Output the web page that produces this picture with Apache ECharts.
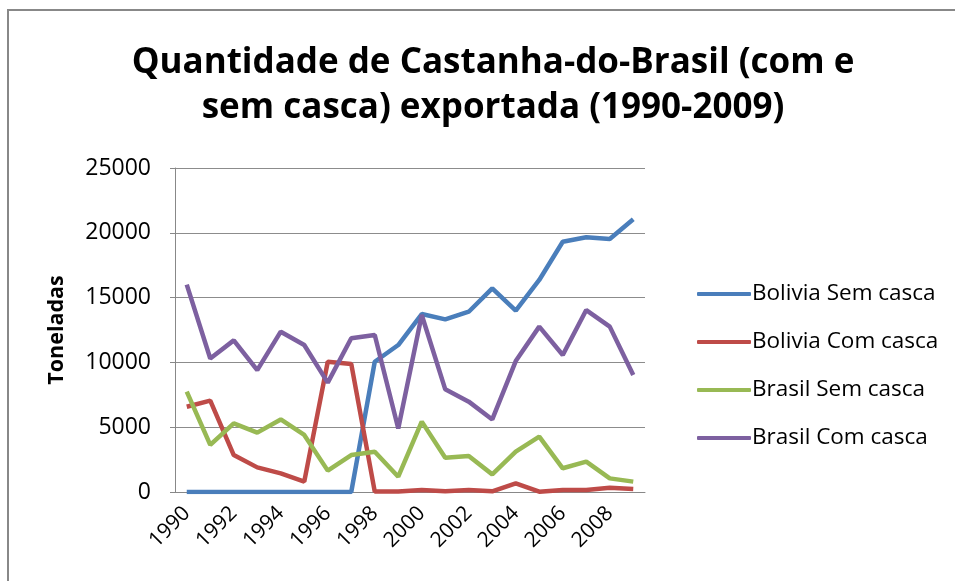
<!DOCTYPE html>
<html>
<head>
<meta charset="utf-8">
<script src="https://cdn.jsdelivr.net/npm/echarts@6/dist/echarts.min.js"></script>
<style>html,body{margin:0;padding:0;background:#fff}#c{width:955px;height:581px}</style>
</head>
<body>
<div id="c"></div>
<script>
var years = ['1990','1991','1992','1993','1994','1995','1996','1997','1998','1999','2000','2001','2002','2003','2004','2005','2006','2007','2008','2009'];
var boliviaSem = [0,0,0,0,0,0,0,0,10050,11340,13730,13320,13910,15710,13990,16360,19310,19650,19520,21040];
var boliviaCom = [6580,7050,2850,1900,1440,800,10050,9880,30,30,150,50,150,50,670,20,150,150,330,230];
var brasilSem = [7740,3630,5300,4580,5600,4400,1650,2850,3110,1180,5430,2650,2780,1360,3110,4270,1830,2340,1050,800];
var brasilCom = [16000,10300,11700,9400,12370,11340,8440,11860,12110,4900,13660,7920,6970,5600,10100,12760,10570,14040,12760,9030];
var seriesNames = ['Bolivia Sem casca','Bolivia Com casca','Brasil Sem casca','Brasil Com casca'];
var colors = ['#4a7ebb','#be4b48','#98b954','#7d60a0'];
var FONT = 'Open Sans, Liberation Sans, sans-serif';

var chart = echarts.init(document.getElementById('c'));
var data = [boliviaSem, boliviaCom, brasilSem, brasilCom];
chart.setOption({
  animation: false,
  backgroundColor: '#fff',
  title: {
    text: 'Quantidade de Castanha-do-Brasil (com e\nsem casca) exportada (1990-2009)',
    left: 488, top: 36, textAlign: 'center',
    textStyle: {fontFamily: FONT, fontSize: 35, fontWeight: 'bold', color: '#000', lineHeight: 45}
  },
  legend: {
    orient: 'vertical', left: 692, top: 277, itemGap: 24,
    itemWidth: 54, itemHeight: 4,
    icon: 'roundRect',
    textStyle: {fontFamily: FONT, fontSize: 22.5, color: '#000', padding: [0,0,0,-4], lineHeight: 24},
    data: seriesNames
  },
  grid: {left: 175, right: 310, top: 168, bottom: 89},
  xAxis: {
    type: 'category', data: years, boundaryGap: true,
    axisLine: {lineStyle: {color: '#888', width: 1}},
    axisTick: {show: false},
    axisLabel: {interval: 1, rotate: 45, fontFamily: FONT, fontSize: 21, color: '#000', margin: 18}
  },
  yAxis: {
    type: 'value', min: 0, max: 25000, interval: 5000,
    name: 'Toneladas', nameLocation: 'middle', nameGap: 107, nameRotate: 90,
    nameTextStyle: {fontFamily: FONT, fontSize: 21.5, fontWeight: 'bold', color: '#000'},
    axisLine: {show: true, lineStyle: {color: '#888', width: 1}},
    axisTick: {show: true, length: 5, lineStyle: {color: '#888'}},
    axisLabel: {fontFamily: FONT, fontSize: 23, color: '#000', margin: 24, formatter: function(v){return String(v);}},
    splitLine: {lineStyle: {color: '#8c8c8c', width: 1}}
  },
  graphic: [{
    type: 'rect', shape: {x: 8, y: 10, width: 1000, height: 700},
    style: {fill: 'none', stroke: '#888', lineWidth: 2}, silent: true, z: -1
  }],
  series: data.map(function(d, i) {
    return {
      name: seriesNames[i], type: 'line', data: d,
      symbol: 'none', smooth: false,
      lineStyle: {width: 4.5, color: colors[i]},
      itemStyle: {color: colors[i]}
    };
  })
});
</script>
</body>
</html>
